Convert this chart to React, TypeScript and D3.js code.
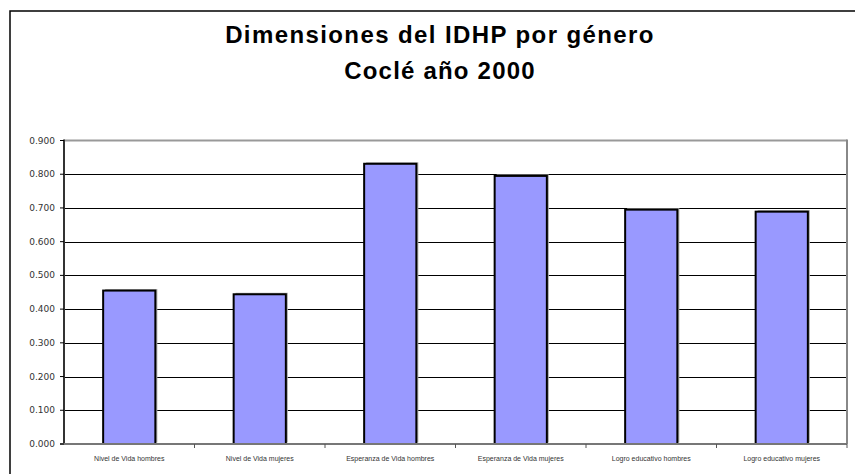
import React from "react";
import * as d3 from "d3";

const categories = [
  "Nivel de Vida hombres",
  "Nivel de Vida mujeres",
  "Esperanza de Vida hombres",
  "Esperanza de Vida mujeres",
  "Logro educativo hombres",
  "Logro educativo mujeres",
];
const values = [0.455, 0.444, 0.831, 0.795, 0.695, 0.689];
const yTicks = [0, 0.1, 0.2, 0.3, 0.4, 0.5, 0.6, 0.7, 0.8, 0.9];
const titleLines = ["Dimensiones del IDHP por género", "Coclé año 2000"];

export default function App() {
  const W = 855, H = 474;
  const left = 64, right = 847, top = 140.5, bottom = 444;
  const x = d3.scaleBand<string>().domain(categories).range([left, right]).paddingInner(0.6).paddingOuter(0.3);
  const xb = d3.scaleBand<string>().domain(categories).range([left, right]);
  const y = d3.scaleLinear().domain([0, 0.9]).range([bottom, top]);
  const fmt = d3.format(".3f");
  return (
    <svg width={W} height={H} style={{ position: "absolute", left: 0, top: 0, background: "#fff" }}>
      <rect x={0} y={0} width={W} height={H} fill="#fff" />
      {/* outer chart border */}
      <rect x={10} y={11} width={W + 10} height={H + 10} fill="none" stroke="#000" strokeWidth={1.5} />
      {titleLines.map((t, i) => (
        <text key={i} x={440} y={43 + i * 36} textAnchor="middle" fontFamily="'Liberation Sans', Arial, sans-serif" fontWeight="bold" fontSize={24} letterSpacing={i === 0 ? 1.4 : 1.2} fill="#000">
          {t}
        </text>
      ))}
      {/* gridlines */}
      {yTicks.filter(t => t > 0 && t < 0.9).map(t => (
        <line key={t} x1={left} x2={right} y1={Math.round(y(t)) + 0.5} y2={Math.round(y(t)) + 0.5} stroke="#000" strokeWidth={1} />
      ))}
      {/* plot area top and right */}
      <line x1={left} x2={right} y1={top} y2={top} stroke="#999" strokeWidth={2} />
      <line x1={right} x2={right} y1={top - 1} y2={bottom} stroke="#888" strokeWidth={2} />
      {/* bars */}
      {categories.map((c, i) => {
        const bx = x(c)!;
        const bw = x.bandwidth();
        const by = y(values[i]);
        return (
          <g key={c}>
            <rect x={bx + 2} y={by - 1.5} width={bw} height={bottom - by} fill="#aaa" />
            <rect x={bx} y={by} width={bw} height={bottom - by} fill="#9999FF" stroke="#000" strokeWidth={2} />
          </g>
        );
      })}
      {/* axes */}
      <line x1={left} x2={left} y1={top - 1} y2={bottom + 1} stroke="#333" strokeWidth={2} />
      <line x1={left - 4} x2={right} y1={bottom} y2={bottom} stroke="#777" strokeWidth={2} />
      {yTicks.map(t => (
        <g key={t}>
          <line x1={left - 4} x2={left} y1={y(t)} y2={y(t)} stroke="#000" strokeWidth={1} />
          <text x={55} y={y(t) + 3} textAnchor="end" fontFamily="'DejaVu Sans', Verdana, sans-serif" fontSize={9} fill="#333">
            {fmt(t)}
          </text>
        </g>
      ))}
      {categories.map((c, i) => (
        <g key={"t" + c}>
          <line x1={xb(c)! + xb.bandwidth()} x2={xb(c)! + xb.bandwidth()} y1={bottom} y2={bottom + 4} stroke="#555" strokeWidth={1} />
          <text x={xb(c)! + xb.bandwidth() / 2} y={461} textAnchor="middle" fontFamily="'Liberation Sans', Arial, sans-serif" fontSize={7} fill="#333">
            {c}
          </text>
        </g>
      ))}
    </svg>
  );
}
